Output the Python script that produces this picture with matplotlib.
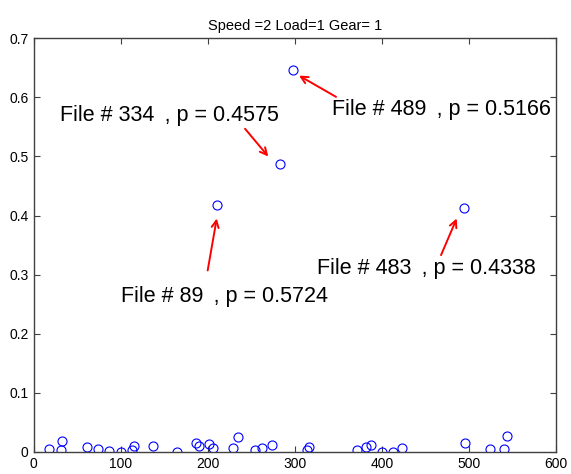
import matplotlib.pyplot as plt
from matplotlib.ticker import FuncFormatter

plt.rcParams['font.family'] = ['Liberation Sans', 'DejaVu Sans']

# valores
x_vals = [17.8, 33.1, 31.6, 61.1, 74.4, 86.7, 100.5, 113.1, 115.4, 137.6,
          164.4, 186.3, 190.4, 201.9, 205.8, 210.4, 229.4, 235.2, 254.4, 262.8,
          274.2, 283.1, 298.3, 314.4, 316.4, 371.2, 381.5, 387.6, 399.9, 413.2,
          422.8, 494.7, 495.5, 524.2, 540.7, 543.4]
y_vals = [0.004, 0.019, 0.003, 0.008, 0.004, 0.001, 0.0, 0.003, 0.009, 0.009,
          0.0, 0.014, 0.010, 0.013, 0.007, 0.417, 0.007, 0.025, 0.003, 0.006,
          0.012, 0.488, 0.647, 0.003, 0.0075, 0.003, 0.0075, 0.011, 0.0, 0.0,
          0.006, 0.4135, 0.014, 0.004, 0.004, 0.026]

# anotacoes: texto, posicao do texto, cauda e ponta da seta
labels = ['File # 489 \u2009, p = 0.5166', 'File # 334 \u2009, p = 0.4575',
          'File # 89 \u2009, p = 0.5724', 'File # 483 \u2009, p = 0.4338']
text_pos = [(342.4, 0.580), (30.4, 0.570), (100.1, 0.263), (325.9, 0.310)]
arrow_tail = [(347.4, 0.601), (242.9, 0.547), (200.0, 0.307), (468.0, 0.333)]
arrow_head = [(304.9, 0.637), (269.6, 0.500), (210.4, 0.395), (486.0, 0.395)]

fig = plt.figure(figsize=(5.71, 4.74), dpi=100)
ax = fig.add_axes([0.0587, 0.047, 0.915, 0.872])

ax.plot(x_vals, y_vals, 'o', markerfacecolor='none', markeredgecolor='blue',
        markersize=6.5, markeredgewidth=0.8)

for lab, tp, tail, head in zip(labels, text_pos, arrow_tail, arrow_head):
    ax.annotate('', xy=head, xytext=tail,
                arrowprops=dict(arrowstyle='->,head_length=0.5,head_width=0.25',
                                color='red', lw=1.4, shrinkA=0, shrinkB=0))
    ax.text(tp[0], tp[1], lab, fontsize=15.5, ha='left', va='center')

ax.set_xlim(0, 600)
ax.set_ylim(0, 0.7)
ax.set_xticks(range(0, 601, 100))
ax.set_yticks([i / 10 for i in range(8)])
ax.yaxis.set_major_formatter(FuncFormatter(lambda v, p: '0' if v == 0 else '%g' % v))
ax.tick_params(direction='in', top=True, right=True, labelsize=10, length=4,
               color='#404040')
for s in ax.spines.values():
    s.set_color('#404040')
    s.set_linewidth(1.0)
ax.set_title('Speed =2 Load=1 Gear= 1', fontsize=10.5, pad=6)

plt.savefig('out.png')
